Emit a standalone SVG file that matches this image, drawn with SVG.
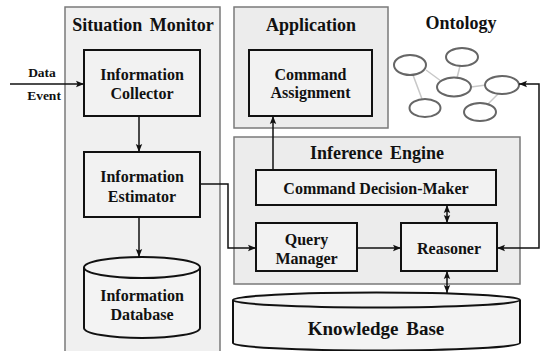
<svg xmlns="http://www.w3.org/2000/svg" width="540" height="351" viewBox="0 0 540 351">
  <defs>
    <marker id="arrow" viewBox="0 0 8 8" refX="8" refY="4" markerWidth="8" markerHeight="8" markerUnits="userSpaceOnUse" orient="auto-start-reverse">
      <path d="M0,0.8 L8,4 L0,7.2 L1.6,4 Z" fill="#111"/>
    </marker>
    <style>
      .container { fill: #ececec; stroke: #7a7a7a; stroke-width: 1.5; }
      .box { fill: #f2f2f2; stroke: #111; stroke-width: 2; }
      .cyl { fill: #f3f3f3; stroke: #111; stroke-width: 2; }
      text { font-family: 'Liberation Serif', 'Times New Roman', Times, 'DejaVu Serif', serif; font-weight: bold; fill: #111; text-anchor: middle; }
      .title { font-size: 18px; word-spacing: 3px; }
      .label { font-size: 16px; }
      .small { font-size: 13.5px; }
      .conn { fill: none; stroke: #111; stroke-width: 1.5; }
      .onode { fill: #fff; stroke: #666; stroke-width: 2; }
      .olink { stroke: #c8c8c8; stroke-width: 1.5; }
    </style>
  </defs>
  <rect width="540" height="351" fill="#fff"/>

  <!-- Situation Monitor -->
  <g id="situation-monitor">
    <rect class="container" x="65" y="7" width="155" height="360" style="fill:#f0f0f0"/>
    <text class="title" x="143" y="31">Situation Monitor</text>
  </g>

  <!-- Application -->
  <g id="application">
    <rect class="container" x="234" y="7" width="154" height="121"/>
    <text class="title" x="311" y="31">Application</text>
  </g>

  <!-- Inference Engine -->
  <g id="inference-engine">
    <rect class="container" x="234" y="137" width="286" height="147"/>
    <text class="title" x="377" y="159">Inference Engine</text>
  </g>

  <!-- Ontology -->
  <g id="ontology">
    <text class="title" x="461" y="29">Ontology</text>
    <line class="olink" x1="426" y1="70" x2="441" y2="81"/>
    <line class="olink" x1="413" y1="75" x2="422" y2="99"/>
    <line class="olink" x1="460" y1="66" x2="457" y2="78"/>
    <line class="olink" x1="471" y1="87" x2="486" y2="85"/>
    <line class="olink" x1="498" y1="94" x2="488" y2="104"/>
    <ellipse class="onode" cx="410" cy="65" rx="16" ry="10"/>
    <ellipse class="onode" cx="462" cy="57" rx="16" ry="9"/>
    <ellipse class="onode" cx="454" cy="87" rx="17" ry="9.5"/>
    <ellipse class="onode" cx="502" cy="85" rx="17" ry="9"/>
    <ellipse class="onode" cx="425" cy="108" rx="15.5" ry="9"/>
    <ellipse class="onode" cx="480" cy="112" rx="16" ry="9"/>
  </g>

  <g id="information-collector">
    <rect class="box" x="84" y="50" width="116" height="66"/>
    <text class="label" x="142" y="80">Information</text>
    <text class="label" x="142" y="99">Collector</text>
  </g>

  <g id="information-estimator">
    <rect class="box" x="84" y="152" width="116" height="65"/>
    <text class="label" x="142" y="182">Information</text>
    <text class="label" x="142" y="202">Estimator</text>
  </g>

  <g id="information-database">
    <path class="cyl" d="M84,267.5 L84,328 A58,10 0 0 0 200,328 L200,267.5"/>
    <ellipse class="cyl" cx="142" cy="267.5" rx="58" ry="10.5"/>
    <text class="label" x="142" y="301">Information</text>
    <text class="label" x="142" y="320">Database</text>
  </g>

  <g id="command-assignment">
    <rect class="box" x="249" y="50" width="123" height="66"/>
    <text class="label" x="310.5" y="80">Command</text>
    <text class="label" x="310.5" y="98">Assignment</text>
  </g>

  <g id="command-decision-maker">
    <rect class="box" x="256" y="170" width="240" height="35"/>
    <text class="label" x="376" y="194">Command Decision-Maker</text>
  </g>

  <g id="query-manager">
    <rect class="box" x="256" y="223" width="101" height="48"/>
    <text class="label" x="306.5" y="245">Query</text>
    <text class="label" x="306.5" y="264">Manager</text>
  </g>

  <g id="reasoner">
    <rect class="box" x="401" y="223" width="96" height="48"/>
    <text class="label" x="449" y="254">Reasoner</text>
  </g>

  <g id="knowledge-base">
    <path class="cyl" d="M233,300 L233,343 A143.5,7.5 0 0 0 520,343 L520,300"/>
    <ellipse class="cyl" cx="376.5" cy="300" rx="143.5" ry="7.5"/>
    <text class="title" x="376" y="335" style="font-size:19px">Knowledge Base</text>
  </g>

  <!-- Connectors -->
  <g id="connectors">
    <line class="conn" x1="10" y1="84" x2="84" y2="84" marker-end="url(#arrow)"/>
    <text class="small" x="42" y="77">Data</text>
    <text class="small" x="44" y="100">Event</text>
    <line class="conn" x1="139" y1="116" x2="139" y2="152" marker-end="url(#arrow)"/>
    <line class="conn" x1="139" y1="217" x2="139" y2="257" marker-end="url(#arrow)"/>
    <polyline class="conn" points="200,184 228,184 228,248 256,248" marker-end="url(#arrow)"/>
    <line class="conn" x1="357" y1="248" x2="401" y2="248" marker-end="url(#arrow)"/>
    <line class="conn" x1="273" y1="170" x2="273" y2="116" marker-end="url(#arrow)"/>
    <line class="conn" x1="447" y1="205" x2="447" y2="223" marker-start="url(#arrow)" marker-end="url(#arrow)"/>
    <line class="conn" x1="447" y1="271" x2="447" y2="293" marker-start="url(#arrow)" marker-end="url(#arrow)"/>
    <polyline class="conn" points="497,248 539,248 539,84 519,84" marker-start="url(#arrow)" marker-end="url(#arrow)"/>
  </g>
</svg>
